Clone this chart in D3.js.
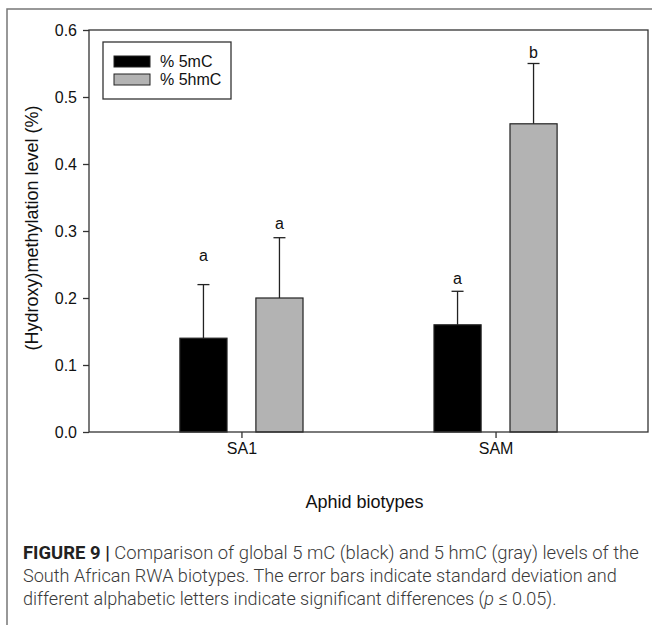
<!DOCTYPE html>
<html>
<head>
<meta charset="utf-8">
<script src="https://cdn.jsdelivr.net/npm/d3@7"></script>
<style>
  body { margin: 0; background: #fff; }
  svg { display: block; }
</style>
</head>
<body>
<div id="chart"></div>
<script>
// data
var biotypes = ['SA1', 'SAM'];
var seriesNames = ['% 5mC', '% 5hmC'];
var seriesColors = ['#000000', '#b3b3b3'];
var mC = [0.14, 0.16];
var hmC = [0.20, 0.46];
var mCErr = [0.08, 0.05];
var hmCErr = [0.09, 0.09];
var mCLetters = ['a', 'a'];
var hmCLetters = ['a', 'b'];
// height (in data units) where each letter sits
var mCLetterAt = [0.255, 0.221];
var hmCLetterAt = [0.303, 0.558];
var yTicks = [0, 0.1, 0.2, 0.3, 0.4, 0.5, 0.6];
var captionLines = [
    ' Comparison of global 5 mC (black) and 5 hmC (gray) levels of the',
    'South African RWA biotypes. The error bars indicate standard deviation and',
    'different alphabetic letters indicate significant differences ('
];

var width = 652, height = 625;
var margin = {left: 89, right: 4, top: 30, bottom: 193};
var font = 'Liberation Sans, Arial, Helvetica, sans-serif';

var svg = d3.select('#chart').append('svg')
    .attr('width', width).attr('height', height);

// outer figure frame (top + left)
svg.append('path')
    .attr('d', 'M7,625V9H652')
    .attr('fill', 'none')
    .attr('stroke', '#777')
    .attr('stroke-width', 1.5);

var x0 = d3.scalePoint()
    .domain(biotypes)
    .range([margin.left, width - margin.right])
    .padding(0.6);

var x1 = d3.scaleBand()
    .domain(seriesNames)
    .range([-76, 76])
    .paddingInner(0.38)
    .paddingOuter(0.19);

var y = d3.scaleLinear()
    .domain([0, 0.6])
    .range([height - margin.bottom, margin.top]);

var rows = biotypes.map(function(b, i) {
    return [
        {cat: b, s: seriesNames[0], v: mC[i], e: mCErr[i], l: mCLetters[i], la: mCLetterAt[i], c: seriesColors[0]},
        {cat: b, s: seriesNames[1], v: hmC[i], e: hmCErr[i], l: hmCLetters[i], la: hmCLetterAt[i], c: seriesColors[1]}
    ];
});
var flat = d3.merge(rows);

function cx(d) { return x0(d.cat) + x1(d.s) + x1.bandwidth() / 2; }

var g = svg.append('g');

// error bars (upper only)
var err = g.selectAll('g.err').data(flat).enter().append('g').attr('class', 'err')
    .attr('stroke', '#222').attr('stroke-width', 1.3);
err.append('line')
    .attr('x1', cx).attr('x2', cx)
    .attr('y1', function(d) { return y(d.v); })
    .attr('y2', function(d) { return y(d.v + d.e); });
err.append('line')
    .attr('x1', function(d) { return cx(d) - 6; })
    .attr('x2', function(d) { return cx(d) + 6; })
    .attr('y1', function(d) { return y(d.v + d.e); })
    .attr('y2', function(d) { return y(d.v + d.e); });

// bars
g.selectAll('rect.bar').data(flat).enter().append('rect')
    .attr('class', 'bar')
    .attr('x', function(d) { return x0(d.cat) + x1(d.s); })
    .attr('width', x1.bandwidth())
    .attr('y', function(d) { return y(d.v); })
    .attr('height', function(d) { return y(0) - y(d.v); })
    .attr('fill', function(d) { return d.c; })
    .attr('stroke', '#222')
    .attr('stroke-width', 1.2);

// significance letters
g.selectAll('text.sig').data(flat).enter().append('text')
    .attr('class', 'sig')
    .attr('x', cx)
    .attr('y', function(d) { return y(d.la); })
    .attr('text-anchor', 'middle')
    .attr('font-family', font)
    .attr('font-size', 16)
    .attr('fill', '#111')
    .text(function(d) { return d.l; });

// plot box
svg.append('rect')
    .attr('x', margin.left).attr('y', margin.top)
    .attr('width', width - margin.right - margin.left)
    .attr('height', y(0) - margin.top)
    .attr('fill', 'none')
    .attr('stroke', '#333')
    .attr('stroke-width', 1.3);

// axes
var yAxis = svg.append('g')
    .attr('transform', 'translate(' + margin.left + ',0)')
    .call(d3.axisLeft(y).tickValues(yTicks).tickFormat(d3.format('.1f')).tickSize(6).tickPadding(6));
var xAxis = svg.append('g')
    .attr('transform', 'translate(0,' + y(0) + ')')
    .call(d3.axisBottom(x0).tickSize(6).tickPadding(5));
[yAxis, xAxis].forEach(function(a) {
    a.select('.domain').remove();
    a.selectAll('line').attr('stroke', '#333').attr('stroke-width', 1.3);
    a.selectAll('text').attr('font-family', font).attr('font-size', 16).attr('fill', '#111');
});

// axis titles
svg.append('text')
    .attr('transform', 'translate(38,' + ((margin.top + y(0)) / 2 - 3) + ') rotate(-90)')
    .attr('text-anchor', 'middle')
    .attr('font-family', font).attr('font-size', 18).attr('fill', '#111')
    .text('(Hydroxy)methylation level (%)');
svg.append('text')
    .attr('x', (margin.left + width - margin.right) / 2 - 4)
    .attr('y', 508)
    .attr('text-anchor', 'middle')
    .attr('font-family', font).attr('font-size', 18).attr('fill', '#111')
    .text('Aphid biotypes');

// legend
var leg = svg.append('g').attr('transform', 'translate(103,42)');
leg.append('rect').attr('width', 128).attr('height', 57)
    .attr('fill', '#fff').attr('stroke', '#333').attr('stroke-width', 1.3);
var li = leg.selectAll('g.li').data(seriesNames).enter().append('g')
    .attr('transform', function(d, i) { return 'translate(11,' + (14 + i * 18) + ')'; });
li.append('rect').attr('width', 36).attr('height', 11)
    .attr('fill', function(d, i) { return seriesColors[i]; })
    .attr('stroke', '#222').attr('stroke-width', 1);
li.append('text').attr('x', 46).attr('y', 11)
    .attr('font-family', font).attr('font-size', 16).attr('fill', '#111')
    .text(function(d) { return d; });

// caption: each line squeezed/stretched horizontally to the width seen in the original
var capFont = 'Roboto, Liberation Sans, Arial, sans-serif';
var cap = svg.append('g').attr('font-family', capFont).attr('font-size', 19)
    .attr('font-weight', 300).attr('fill', '#3a3a3a');

function fitLine(sel, x, yb, w) {
    var natural = sel.node().getComputedTextLength();
    sel.attr('transform', 'translate(' + x + ',' + yb + ') scale(' + (w / natural) + ',1)');
}

var t0 = cap.append('text');
t0.append('tspan').attr('font-weight', 'bold').attr('fill', '#222').text('FIGURE 9 |');
t0.append('tspan').text(captionLines[0]);
fitLine(t0, 23, 559, 616);

var t1 = cap.append('text').text(captionLines[1]);
fitLine(t1, 23, 582, 594);

var t2 = cap.append('text');
t2.append('tspan').text(captionLines[2]);
t2.append('tspan').attr('font-style', 'italic').text('p');
t2.append('tspan').text(' \u2264 0.05).');
fitLine(t2, 23, 605, 534);
</script>
</body>
</html>
